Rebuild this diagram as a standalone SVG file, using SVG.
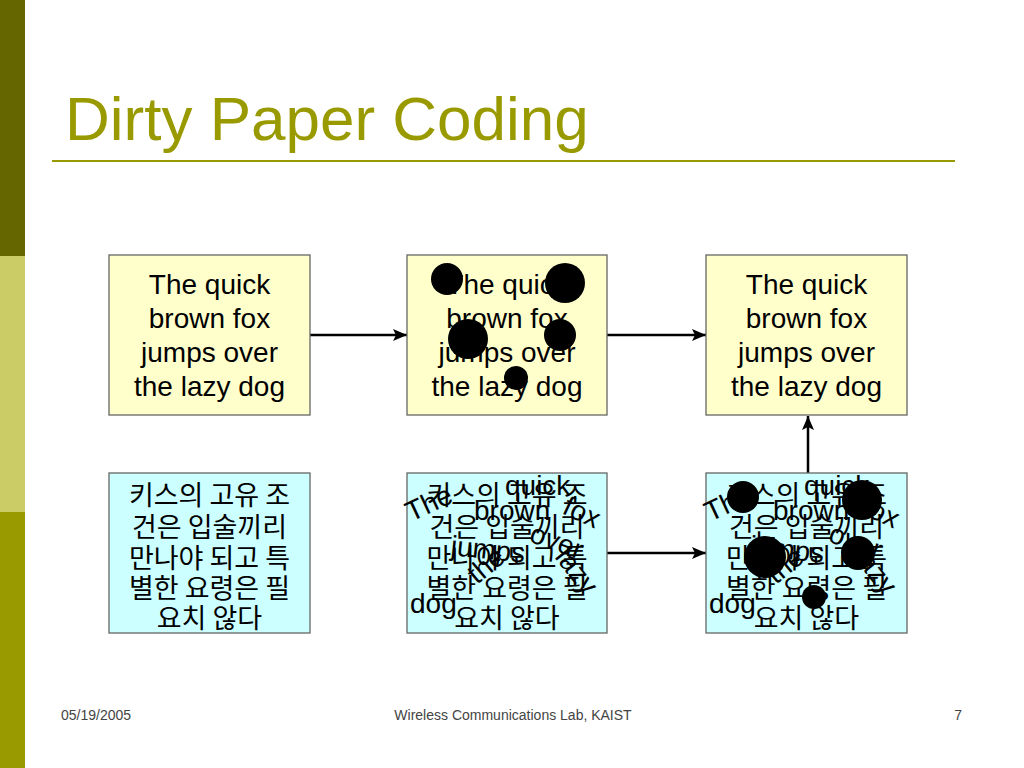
<svg xmlns="http://www.w3.org/2000/svg" width="1024" height="768" viewBox="0 0 1024 768">
<defs>
<style>
.box-y{fill:#ffffcc;stroke:#666;stroke-width:1.3}
.box-c{fill:#ccffff;stroke:#666;stroke-width:1.3}
.en{font-family:"Liberation Sans",Arial,sans-serif;font-size:28px;fill:#000;text-anchor:middle}
.w{font-family:"Liberation Sans",Arial,sans-serif;font-size:28px;fill:#000}
.ko{font-family:"Noto Sans CJK KR","Noto Sans CJK SC",sans-serif;font-size:27px;fill:#000;text-anchor:middle}
.conn{stroke:#000;stroke-width:2.5;fill:none;marker-end:url(#arr)}
.foot{font-family:"Liberation Sans",Arial,sans-serif;font-size:14px;fill:#444}
.blot{fill:#000}
</style>
<marker id="arr" markerUnits="userSpaceOnUse" markerWidth="15" markerHeight="12" refX="14" refY="6" orient="auto">
<path d="M0,0 L14,6 L0,12 L3,6 z" fill="#000"/>
</marker>
</defs>
<rect width="1024" height="768" fill="#fff"/>
<rect x="0" y="0" width="25" height="256" fill="#666600"/>
<rect x="0" y="256" width="25" height="256" fill="#cccc66"/>
<rect x="0" y="512" width="25" height="256" fill="#999900"/>
<text x="65" y="140" font-family="Liberation Sans,Arial,sans-serif" font-size="62" fill="#999900">Dirty Paper Coding</text>
<line x1="52" y1="161" x2="955" y2="161" stroke="#999900" stroke-width="2"/>

<g id="connectors">
<line class="conn" x1="310" y1="335" x2="407" y2="335"/>
<line class="conn" x1="607" y1="335" x2="706" y2="335"/>
<line class="conn" x1="607" y1="553" x2="706" y2="553"/>
<line class="conn" x1="808" y1="473" x2="808" y2="416"/>
</g>

<g id="top-left">
<rect class="box-y" x="109" y="255" width="201" height="160"/>
<text class="en" x="209.5" y="294">The quick</text>
<text class="en" x="209.5" y="328">brown fox</text>
<text class="en" x="209.5" y="362">jumps over</text>
<text class="en" x="209.5" y="396">the lazy dog</text>
</g>

<g id="top-middle">
<rect class="box-y" x="407" y="255" width="200" height="160"/>
<text class="en" x="507" y="294">The quick</text>
<text class="en" x="507" y="328">brown fox</text>
<text class="en" x="507" y="362">jumps over</text>
<text class="en" x="507" y="396">the lazy dog</text>
<g transform="translate(407,255)">
<circle class="blot" cx="40" cy="24" r="16"/>
<circle class="blot" cx="158" cy="28" r="20"/>
<circle class="blot" cx="61" cy="84" r="20"/>
<circle class="blot" cx="153" cy="80" r="16"/>
<circle class="blot" cx="109" cy="123" r="12"/>
</g>
</g>

<g id="top-right">
<rect class="box-y" x="706" y="255" width="201" height="160"/>
<text class="en" x="806.5" y="294">The quick</text>
<text class="en" x="806.5" y="328">brown fox</text>
<text class="en" x="806.5" y="362">jumps over</text>
<text class="en" x="806.5" y="396">the lazy dog</text>
</g>

<g id="bottom-left">
<rect class="box-c" x="109" y="473" width="201" height="160"/>
<text class="ko" x="209.5" y="505">키스의 고유 조</text>
<text class="ko" x="209.5" y="537">건은 입술끼리</text>
<text class="ko" x="209.5" y="568">만나야 되고 특</text>
<text class="ko" x="209.5" y="598">별한 요령은 필</text>
<text class="ko" x="209.5" y="628">요치 않다</text>
</g>

<g id="bottom-middle">
<rect class="box-c" x="407" y="473" width="200" height="160"/>
<text class="ko" x="507" y="505">키스의 고유 조</text>
<text class="ko" x="507" y="537">건은 입술끼리</text>
<text class="ko" x="507" y="568">만나야 되고 특</text>
<text class="ko" x="507" y="598">별한 요령은 필</text>
<text class="ko" x="507" y="628">요치 않다</text>
<g transform="translate(407,473)">
<text class="w" transform="translate(4,49) rotate(-25)">The</text>
<text class="w" x="98" y="22">quick</text>
<text class="w" x="67" y="47">brown</text>
<text class="w" transform="translate(154,40) rotate(25)">fox</text>
<text class="w" transform="translate(43,82) rotate(6)">jumps</text>
<text class="w" transform="translate(121,68) rotate(20)">over</text>
<text class="w" transform="translate(70,112) rotate(-40)">the</text>
<text class="w" transform="translate(147,84) rotate(52)">lazy</text>
<text class="w" x="3" y="140">dog</text>
</g>
</g>

<g id="bottom-right">
<rect class="box-c" x="706" y="473" width="201" height="160"/>
<text class="ko" x="806.5" y="505">키스의 고유 조</text>
<text class="ko" x="806.5" y="537">건은 입술끼리</text>
<text class="ko" x="806.5" y="568">만나야 되고 특</text>
<text class="ko" x="806.5" y="598">별한 요령은 필</text>
<text class="ko" x="806.5" y="628">요치 않다</text>
<g transform="translate(706,473)">
<text class="w" transform="translate(4,49) rotate(-25)">The</text>
<text class="w" x="98" y="22">quick</text>
<text class="w" x="67" y="47">brown</text>
<text class="w" transform="translate(154,40) rotate(25)">fox</text>
<text class="w" transform="translate(43,82) rotate(6)">jumps</text>
<text class="w" transform="translate(121,68) rotate(20)">over</text>
<text class="w" transform="translate(70,112) rotate(-40)">the</text>
<text class="w" transform="translate(147,84) rotate(52)">lazy</text>
<text class="w" x="3" y="140">dog</text>
<circle class="blot" cx="37" cy="24" r="16"/>
<circle class="blot" cx="156" cy="27" r="20"/>
<circle class="blot" cx="59" cy="84" r="21"/>
<circle class="blot" cx="152" cy="80" r="17"/>
<circle class="blot" cx="108" cy="124" r="12"/>
</g>
</g>

<g id="footer">
<text class="foot" x="61" y="720">05/19/2005</text>
<text class="foot" x="513" y="720" text-anchor="middle">Wireless Communications Lab, KAIST</text>
<text class="foot" x="962" y="720" text-anchor="end">7</text>
</g>
</svg>
